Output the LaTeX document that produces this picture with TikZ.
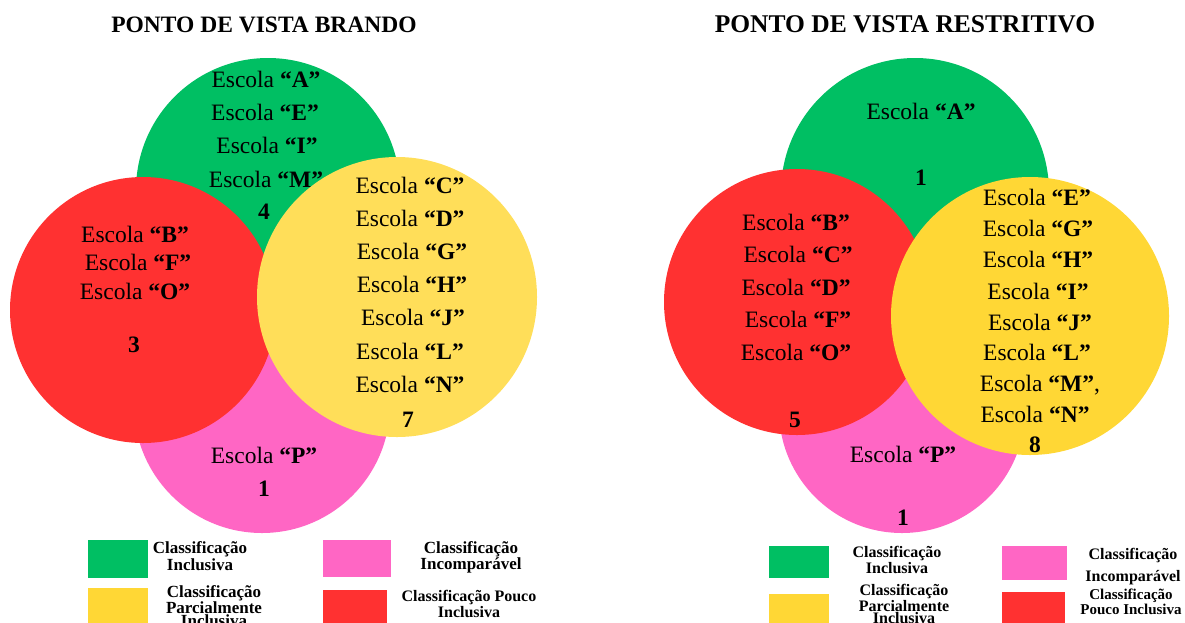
\documentclass[tikz,border=0pt]{standalone}
\usepackage{fontspec}
\setmainfont{Liberation Serif}
\definecolor{vgreen}{HTML}{00BF63}
\definecolor{vred}{HTML}{FF3131}
\definecolor{vpink}{HTML}{FF66C4}
\definecolor{vyellowA}{HTML}{FFDE59}
\definecolor{vyellowB}{HTML}{FFD735}
\newcommand\esc[1]{Escola \textbf{“#1”}}
\tikzset{
  circ/.style={circle, inner sep=0pt, outer sep=0pt, draw=none},
  tx/.style={font=\fontsize{23.5}{28}\selectfont, inner sep=0pt, text height=15.5pt, text depth=0pt},
  ttl/.style={font=\bfseries\fontsize{23.5}{28}\selectfont, inner sep=0pt, text height=15.5pt, text depth=0pt},
  swatch/.style={rectangle, inner sep=0pt, outer sep=0pt, draw=none},
  lg/.style={font=\bfseries\fontsize{17}{13}\selectfont, align=center, inner sep=0pt},
}
\begin{document}
\begin{tikzpicture}[x=1pt,y=-1pt]
\useasboundingbox (0,0) rectangle (1185,622);
% titles
\node[ttl] (t1) at (264,25) {PONTO DE VISTA BRANDO};
\node[ttl, font=\bfseries\fontsize{25.5}{28}\selectfont] (t2) at (905,25) {PONTO DE VISTA RESTRITIVO};
% ---------- left diagram ----------
\node[circ, fill=vgreen, minimum size=264pt] (gL) at (268,190) {};
\node[circ, fill=vpink, minimum size=256pt] (pL) at (262,405) {};
\node[circ, fill=vred, minimum size=266pt] (rL) at (143,310) {};
\node[circ, fill=vyellowA, minimum size=280pt] (yL) at (397,297) {};
% green texts
\node[tx] (gL1) at (266,80) {\esc{A}};
\node[tx] (gL2) at (265,113) {\esc{E}};
\node[tx] (gL3) at (267,146) {\esc{I}};
\node[tx] (gL4) at (266,180) {\esc{M}};
\node[tx] (gL5) at (264,212) {\textbf{4}};
% red texts
\node[tx] (rL1) at (135,235) {\esc{B}};
\node[tx] (rL2) at (138,263) {\esc{F}};
\node[tx] (rL3) at (135,292) {\esc{O}};
\node[tx] (rL4) at (134,345) {\textbf{3}};
% yellow texts
\node[tx] (yL1) at (410,186) {\esc{C}};
\node[tx] (yL2) at (410,219) {\esc{D}};
\node[tx] (yL3) at (412,252) {\esc{G}};
\node[tx] (yL4) at (412,285) {\esc{H}};
\node[tx] (yL5) at (413,318) {\esc{J}};
\node[tx] (yL6) at (410,352) {\esc{L}};
\node[tx] (yL7) at (410,385) {\esc{N}};
\node[tx] (yL8) at (408,420) {\textbf{7}};
% pink texts
\node[tx] (pL1) at (264,456) {\esc{P}};
\node[tx] (pL2) at (264,489) {\textbf{1}};
% ---------- right diagram ----------
\node[circ, fill=vgreen, minimum size=268pt] (gR) at (915,192) {};
\node[circ, fill=vpink, minimum size=246pt] (pR) at (902,410) {};
\node[circ, fill=vred, minimum size=266pt] (rR) at (797,302) {};
\node[circ, fill=vyellowB, minimum size=278pt] (yR) at (1030,316) {};
\node[tx] (gR1) at (921,112) {\esc{A}};
\node[tx] (gR2) at (921,178) {\textbf{1}};
\node[tx] (rR1) at (796,223) {\esc{B}};
\node[tx] (rR2) at (798,255) {\esc{C}};
\node[tx] (rR3) at (796,288) {\esc{D}};
\node[tx] (rR4) at (798,320) {\esc{F}};
\node[tx] (rR5) at (796,353) {\esc{O}};
\node[tx] (rR6) at (795,420) {\textbf{5}};
\node[tx] (yR1) at (1037,198) {\esc{E}};
\node[tx] (yR2) at (1038,229) {\esc{G}};
\node[tx] (yR3) at (1038,260) {\esc{H}};
\node[tx] (yR4) at (1038,292) {\esc{I}};
\node[tx] (yR5) at (1040,323) {\esc{J}};
\node[tx] (yR6) at (1037,353) {\esc{L}};
\node[tx] (yR7) at (1040,384) {\esc{M},};
\node[tx] (yR8) at (1035,415) {\esc{N}};
\node[tx] (yR9) at (1035,445) {\textbf{8}};
\node[tx] (pR1) at (903,455) {\esc{P}};
\node[tx] (pR2) at (903,518) {\textbf{1}};
% ---------- left legend ----------
\node[swatch, fill=vgreen, minimum width=60pt, minimum height=38pt] (lgG) at (118,559) {};
\node[swatch, fill=vpink, minimum width=68pt, minimum height=37pt] (lgP) at (357,558.5) {};
\node[swatch, fill=vyellowB, minimum width=60pt, minimum height=36pt] (lgY) at (118,606) {};
\node[swatch, fill=vred, minimum width=64pt, minimum height=34pt] (lgR) at (355,607) {};
\node[lg] (lgGt) at (200,556) {Classificação\\Inclusiva};
\node[lg] (lgPt) at (471,557) {Classificação\\Incomparável};
\node[lg, font=\bfseries\fontsize{17}{9.5}\selectfont] (lgYt) at (214,606) {Classificação\\Parcialmente\\Inclusiva};
\node[lg, font=\bfseries\fontsize{16}{12.5}\selectfont] (lgRt) at (469,604) {Classificação Pouco\\Inclusiva};
% ---------- right legend ----------
\node[swatch, fill=vgreen, minimum width=60pt, minimum height=32pt] (rgG) at (799,562) {};
\node[swatch, fill=vpink, minimum width=65pt, minimum height=34pt] (rgP) at (1034.5,563) {};
\node[swatch, fill=vyellowB, minimum width=60pt, minimum height=32pt] (rgY) at (799,610) {};
\node[swatch, fill=vred, minimum width=63pt, minimum height=32pt] (rgR) at (1033.5,608) {};
\node[lg, font=\bfseries\fontsize{16}{13}\selectfont] (rgGt) at (897,560) {Classificação\\Inclusiva};
\node[lg, font=\bfseries\fontsize{16}{22}\selectfont] (rgPt) at (1133,567) {Classificação\\Incomparável};
\node[lg, font=\bfseries\fontsize{16}{9.5}\selectfont] (rgYt) at (904,604) {Classificação\\Parcialmente\\Inclusiva};
\node[lg, font=\bfseries\fontsize{15}{12.5}\selectfont] (rgRt) at (1131,602) {Classificação\\Pouco Inclusiva};
\end{tikzpicture}
\end{document}
